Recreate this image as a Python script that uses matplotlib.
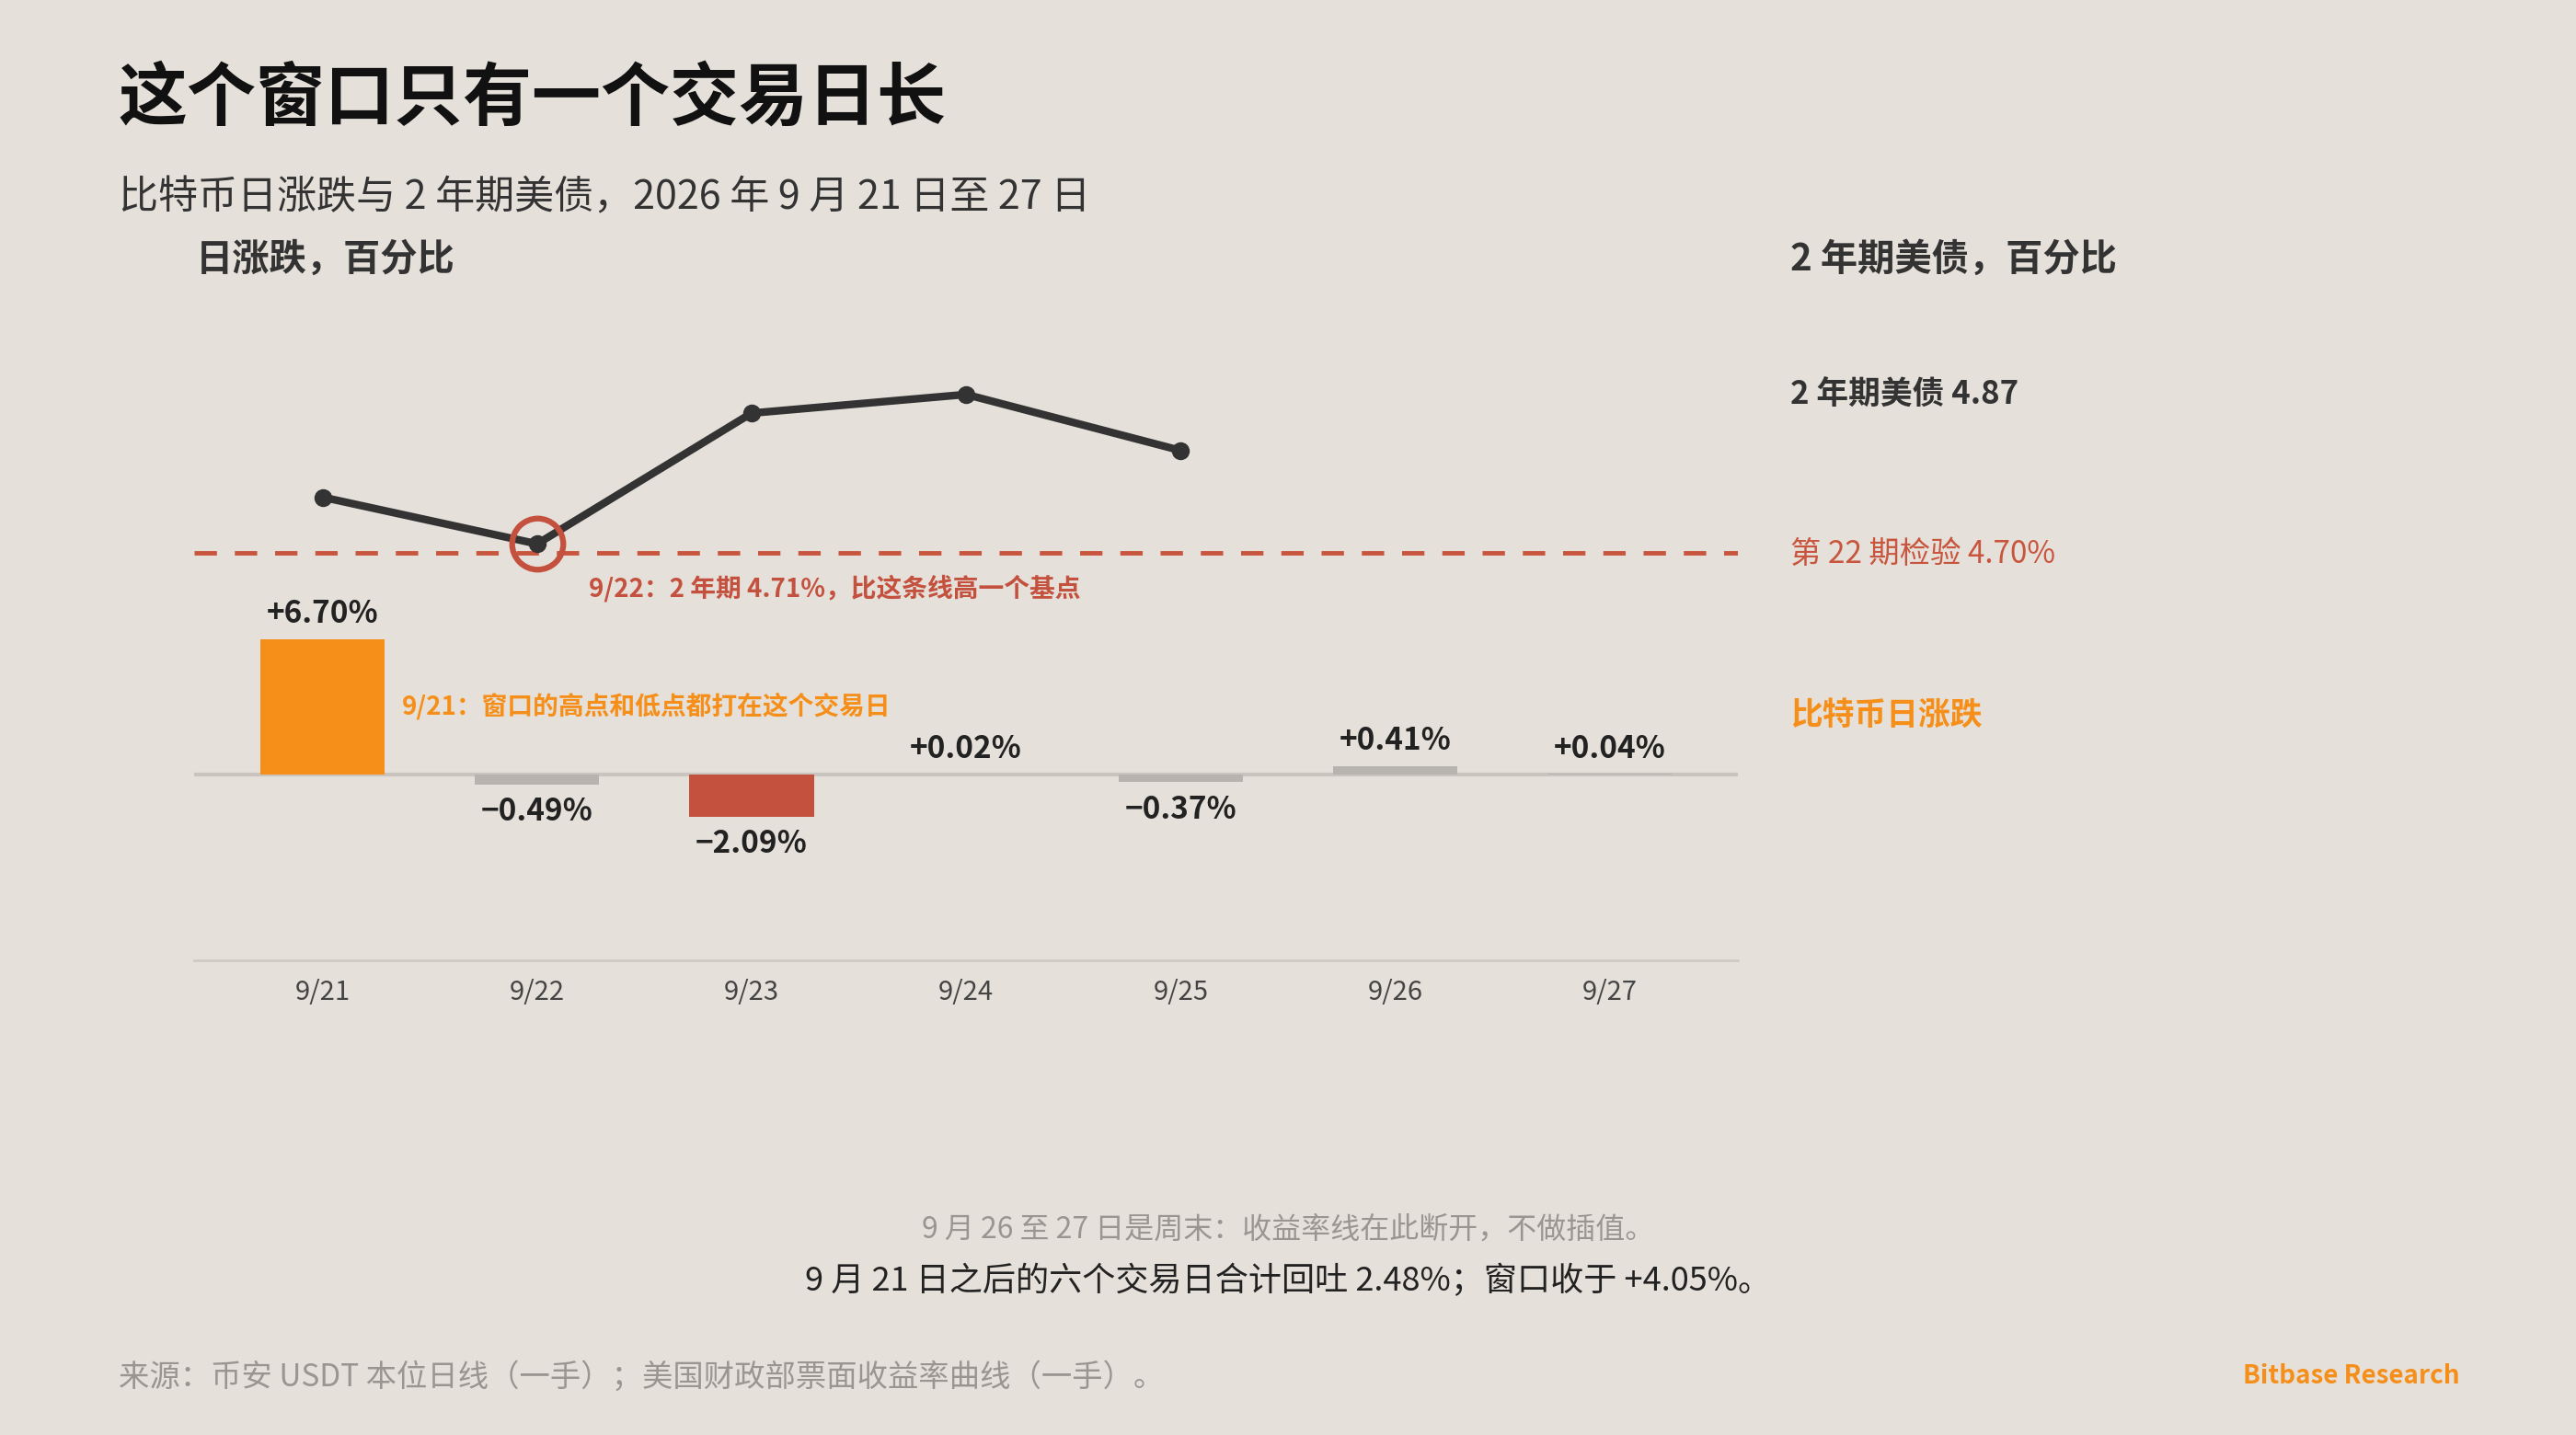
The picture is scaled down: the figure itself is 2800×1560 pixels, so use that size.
import matplotlib
matplotlib.use("Agg")
import matplotlib.pyplot as plt

plt.rcParams['font.family'] = ['Noto Sans CJK SC', 'DejaVu Sans']

days = ["9/21", "9/22", "9/23", "9/24", "9/25", "9/26", "9/27"]
btc_change = [6.70, -0.49, -2.09, 0.02, -0.37, 0.41, 0.04]
btc_labels = ["+6.70%", "−0.49%", "−2.09%", "+0.02%", "−0.37%", "+0.41%", "+0.04%"]
yield_days = [0, 1, 2, 3, 4]
yield_2y = [4.76, 4.71, 4.85, 4.87, 4.81]
auction = 4.70

BG = "#E5E0DA"
ORANGE = "#F58F1A"
RED = "#C4503E"
GRAY = "#B7B3AE"
DARK = "#333333"

fig = plt.figure(figsize=(28, 15.6), dpi=100, facecolor=BG)
ax = fig.add_axes([0.0753, 0.3307, 0.5995, 0.4748])
ax.set_facecolor("none")
ax.set_xlim(-0.6, 6.6)
ax.set_ylim(-9.19, 24.55)
for s in ax.spines.values():
    s.set_visible(False)
ax.spines['bottom'].set_visible(True)
ax.spines['bottom'].set_color("#CFCAC4")
ax.spines['bottom'].set_linewidth(2)
ax.set_yticks([])
ax.set_xticks(range(7))
ax.set_xticklabels(days, fontsize=21, color="#444444")
ax.tick_params(axis='x', length=0, pad=14)

colors = [ORANGE, GRAY, RED, GRAY, GRAY, GRAY, GRAY]
ax.bar(range(7), btc_change, width=0.58, color=colors, zorder=2)
ax.axhline(0, color="#C9C4BE", lw=3, zorder=1)
for i, (v, lab) in enumerate(zip(btc_change, btc_labels)):
    if v >= 0:
        ax.text(i, v + 0.5, lab, ha='center', va='bottom', fontsize=24, fontweight='bold', color="#222222")
    else:
        ax.text(i, v - 0.6, lab, ha='center', va='top', fontsize=24, fontweight='bold', color="#222222")

ax2 = ax.twinx()
ax2.set_ylim(4.264, 4.9935)
ax2.set_axis_off()
ax2.axhline(auction, color="#C8553D", lw=3.5, ls=(0, (5, 4)), zorder=1)
ax2.plot(yield_days, yield_2y, color=DARK, lw=6, marker='o', ms=13, zorder=3)
ax2.plot([1], [yield_2y[1]], marker='o', ms=40, mfc='none', mec=RED, mew=4.5, zorder=4)
ax2.annotate("9/22：2 年期 4.71%，比这条线高一个基点", xy=(1.24, 4.662), fontsize=20,
             fontweight='bold', color=RED, va='center', ha='left')
ax.text(0.37, 3.4, "9/21：窗口的高点和低点都打在这个交易日", fontsize=20, fontweight='bold',
        color=ORANGE, va='center', ha='left')

# texts
fig.text(0.0459, 0.931, "这个窗口只有一个交易日长", fontsize=54, fontweight='bold', color="#111111", va='center')
fig.text(0.0459, 0.862, "比特币日涨跌与 2 年期美债，2026 年 9 月 21 日至 27 日", fontsize=31, color="#333333", va='center')
fig.text(0.0759, 0.819, "日涨跌，百分比", fontsize=29, fontweight='bold', color="#333333", va='center')
fig.text(0.695, 0.819, "2 年期美债，百分比", fontsize=29, fontweight='bold', color="#333333", va='center')
fig.text(0.695, 0.725, "2 年期美债 4.87", fontsize=25, fontweight='bold', color="#333333", va='center')
fig.text(0.695, 0.614, "第 22 期检验 4.70%", fontsize=24, color="#C8553D", va='center')
fig.text(0.695, 0.502, "比特币日涨跌", fontsize=25, fontweight='bold', color=ORANGE, va='center')
fig.text(0.5, 0.143, "9 月 26 至 27 日是周末：收益率线在此断开，不做插值。", fontsize=23, color="#999590", ha='center', va='center')
fig.text(0.5, 0.107, "9 月 21 日之后的六个交易日合计回吐 2.48%；窗口收于 +4.05%。", fontsize=26, color="#222222", ha='center', va='center')
fig.text(0.0459, 0.040, "来源：币安 USDT 本位日线（一手）；美国财政部票面收益率曲线（一手）。", fontsize=24, color="#999590", va='center')
fig.text(0.955, 0.041, "Bitbase Research", fontsize=20, fontweight='bold', color=ORANGE, ha='right', va='center')

fig.savefig("out.png", dpi=100, facecolor=BG)
